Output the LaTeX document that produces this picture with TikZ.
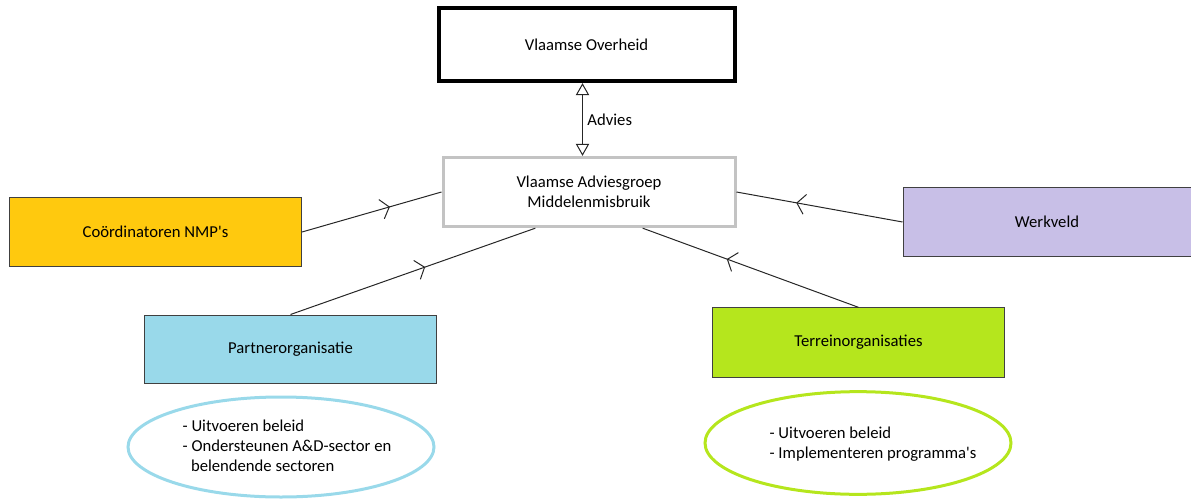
\documentclass[tikz,border=0pt]{standalone}
\usepackage{fontspec}
\setmainfont{Carlito}
\usetikzlibrary{arrows.meta,shapes.geometric,decorations.markings}

\definecolor{amber}{HTML}{FFC90E}
\definecolor{lavendel}{HTML}{C8BFE7}
\definecolor{lichtblauw}{HTML}{99D9EA}
\definecolor{limoen}{HTML}{B5E61D}
\definecolor{randgrijs}{HTML}{C3C3C3}
\definecolor{rand}{HTML}{404040}

\begin{document}
\begin{tikzpicture}[x=0.75pt, y=-0.75pt,
    every node/.style = {font=\fontsize{12.5}{15}\selectfont},
    vak/.style = {draw=rand, line width=0.75pt, minimum width=219pt, minimum height=52pt, align=center},
    ovaal/.style = {ellipse, draw=#1, line width=2.25pt, minimum width=229.5pt, minimum height=75pt},
    taken/.style = {align=left, inner sep=0pt},
    pijl/.style = {draw=black!85, line width=0.75pt, postaction={decorate},
        decoration={markings, mark=at position #1 with {\arrow{Straight Barb[length=6pt,width=15pt]}}}}]
    \useasboundingbox (0,0) rectangle (1191,499);

    \node[vak, draw=black, line width=3pt, minimum width=222pt, minimum height=55pt] (overheid) at (586.5, 44.5) {Vlaamse Overheid};
    \node[vak, draw=randgrijs, line width=2.25pt] (vam) at (589, 192) {Vlaamse Adviesgroep\\Middelenmisbruik};
    \node[vak, fill=amber] (coord) at (155.5, 232) {Coördinatoren NMP\textquotesingle s};
    \node[vak, fill=lavendel, minimum width=216pt] (werkveld) at (1047, 222) {Werkveld};
    \node[vak, fill=lichtblauw, minimum height=51pt] (partner) at (290.5, 349) {Partnerorganisatie};
    \node[vak, fill=limoen] (terrein) at (858.5, 342.5) {Terreinorganisaties};

    % taken
    \node[ovaal=lichtblauw] (partnerovaal) at (281, 447) {};
    \node[taken] (partnertaken) at (287, 446) {- Uitvoeren beleid\\- Ondersteunen A\&D-sector en\\\hspace*{0.5em}belendende sectoren};
    \node[ovaal=limoen, minimum height=77pt] (terreinovaal) at (858, 443) {};
    \node[taken] (terreintaken) at (873, 444) {- Uitvoeren beleid\\- Implementeren programma\textquotesingle s};

    % verbindingen
    \draw[draw=black!85, line width=0.75pt, {Triangle[open,length=9pt,width=10pt,fill=white]}-{Triangle[open,length=9pt,width=10pt,fill=white]}]
        ([xshift=-3pt]overheid.south) -- ([xshift=-3pt]overheid.south |- vam.north) node[midway, right] (advies) {Advies};
    \draw[pijl=0.63] (coord.east) -- (vam.west);
    \draw[pijl=0.55] (partner.north) -- (vam.214.7);
    \draw[pijl=0.64] (werkveld.west) -- (vam.east);
    \draw[pijl=0.61] (terrein.north) -- (vam.326.3);
\end{tikzpicture}
\end{document}
